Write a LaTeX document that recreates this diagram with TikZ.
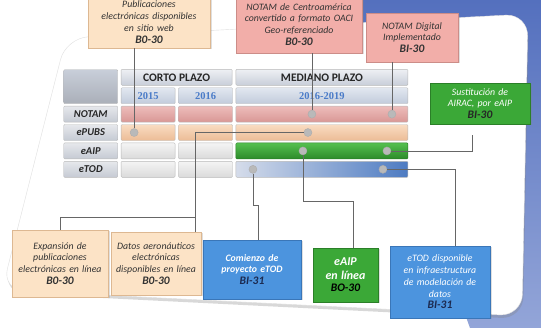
\documentclass[tikz,border=0pt]{standalone}
\usepackage{fontspec}
\setmainfont{Carlito}
\newfontfamily\yearfont{Liberation Serif}
\usetikzlibrary{matrix,positioning,shadows}
\definecolor{skyblue}{HTML}{5470BE}
\definecolor{skylight}{HTML}{93A5D8}
\definecolor{hdrtop}{HTML}{EEF0F4}
\definecolor{hdrbot}{HTML}{C8CED9}
\definecolor{yeartop}{HTML}{E2E7F0}
\definecolor{yearbot}{HTML}{C2CBDB}
\definecolor{yearblue}{HTML}{4A7BC8}
\definecolor{labtop}{HTML}{E6E8EC}
\definecolor{labbot}{HTML}{C5CAD3}
\definecolor{notamtop}{HTML}{EDBDBB}
\definecolor{notambot}{HTML}{D99795}
\definecolor{pubstop}{HTML}{F9DCC2}
\definecolor{pubsbot}{HTML}{ECBC96}
\definecolor{greytop}{HTML}{F4F4F4}
\definecolor{greybot}{HTML}{DADADA}
\definecolor{greentop}{HTML}{55C04F}
\definecolor{greenbot}{HTML}{2C8A2A}
\definecolor{etodleft}{HTML}{D5DCEA}
\definecolor{etodright}{HTML}{4D7BC2}
\definecolor{peach}{HTML}{FCE3C6}
\definecolor{peachline}{HTML}{DDB892}
\definecolor{pinkfill}{HTML}{F2AEA9}
\definecolor{pinkline}{HTML}{CC8D88}
\definecolor{greenfill}{HTML}{3BA837}
\definecolor{greenline}{HTML}{2B7F28}
\definecolor{bluefill}{HTML}{4C94DE}
\definecolor{blueline}{HTML}{3A76B8}
\definecolor{navyink}{HTML}{1C2A50}
\newcommand\idcode[1]{{\fontsize{11.5}{13}\selectfont\bfseries #1}}
\tikzset{
  cell/.style={
      rectangle,
      inner sep=0pt,
      minimum width=54pt,
      minimum height=16pt,
      draw=gray!55,
      rounded corners=1pt
  },
  wide/.style={minimum width=172pt},
  spacer/.style={rectangle, inner sep=0pt, minimum width=54pt, minimum height=16pt},
  hdr/.style={cell, top color=hdrtop, bottom color=hdrbot, text=black!85,
      font=\fontsize{11.5}{13}\selectfont\bfseries},
  cornerblk/.style={cell, top color=hdrbot, bottom color=hdrbot!85!black},
  yearcell/.style={cell, top color=yeartop, bottom color=yearbot, text=yearblue,
      font=\yearfont\fontsize{10.5}{12}\selectfont\bfseries},
  rowlab/.style={cell, top color=labtop, bottom color=labbot, text=black!85,
      font=\fontsize{10.5}{12}\selectfont\bfseries\itshape},
  notamc/.style={cell, top color=notamtop, bottom color=notambot},
  pubsc/.style={cell, top color=pubstop, bottom color=pubsbot},
  greyc/.style={cell, top color=greytop, bottom color=greybot},
  greenc/.style={cell, top color=greentop, bottom color=greenbot, draw=greenline},
  etodc/.style={cell, left color=etodleft, right color=etodright},
  callout/.style={
      rectangle,
      inner sep=2pt,
      align=center,
      drop shadow={opacity=0.25, shadow xshift=1.5pt, shadow yshift=-1.5pt},
      font=\fontsize{9.8}{11.8}\selectfont\itshape
  },
  peachbox/.style={callout, fill=peach, draw=peachline, text=black!80},
  pinkbox/.style={callout, fill=pinkfill, draw=pinkline, text=black!80},
  greenbox/.style={callout, fill=greenfill, draw=greenline, text=white},
  bluebox/.style={callout, fill=bluefill, draw=blueline, text=white},
  blob/.style={circle, inner sep=0pt, minimum size=8pt, fill=gray!55, draw=gray!65},
  link/.style={draw=black!60, line width=0.8pt}
}

\begin{document}
\begin{tikzpicture}[x=1pt,y=-1pt]
    \useasboundingbox (0,0) rectangle (541,328);
    \fill[white] (0,0) rectangle (541,328);
    % background and card
    \shade[top color=skyblue, bottom color=skylight] (352,0) -- (541,0) -- (541,328) -- (470,328) -- cycle;
    \fill[white, draw=gray!25, rounded corners=22pt,
          drop shadow={opacity=0.3, shadow xshift=1pt, shadow yshift=-3pt}]
        (66,38) -- (528,14) -- (522,316) -- (2,290) -- cycle;

    % plan table
    \matrix (tab) [matrix anchor=north west, row sep=2pt, column sep=3pt] at (60,84)
    {
      \node[spacer] (c0) {}; & \node[yearcell] (y15) {2015}; & \node[yearcell] (y16) {2016}; & \node[yearcell,wide] (y19) {2016-2019}; \\
      \node[rowlab] (lnotam) {NOTAM}; & \node[notamc] (n15) {}; & \node[notamc] (n16) {}; & \node[notamc,wide] (n19) {}; \\
      \node[rowlab] (lpubs) {ePUBS}; & \node[pubsc] (p15) {}; & \node[pubsc] (p16) {}; & \node[pubsc,wide] (p19) {}; \\
      \node[rowlab] (laip) {eAIP}; & \node[greyc] (a15) {}; & \node[greyc] (a16) {}; & \node[greenc,wide] (a19) {}; \\
      \node[rowlab] (ltod) {eTOD}; & \node[greyc] (t15) {}; & \node[greyc] (t16) {}; & \node[etodc,wide] (t19) {}; \\
    };
    \node[cornerblk, minimum height=34pt, anchor=south west] (corner) at (c0.south west) {};
    \node[hdr, minimum width=111pt, anchor=south west] (corto) at ([yshift=2pt]y15.north west) {CORTO PLAZO};
    \node[hdr, wide, anchor=south west] (mediano) at ([yshift=2pt]y19.north west) {MEDIANO PLAZO};

    % milestones
    \node[peachbox, minimum width=122pt, minimum height=52pt, text width=118pt] (pubweb) at (149,22)
        {Publicaciones\\electrónicas disponibles\\en sitio web\\\idcode{B0-30}};
    \node[pinkbox, minimum width=126pt, minimum height=57pt, text width=122pt] (notamca) at (299,24.5)
        {NOTAM de Centroamérica\\convertido a formato OACI\\Geo-referenciado\\\idcode{B0-30}};
    \node[pinkbox, minimum width=92pt, minimum height=49pt, text width=88pt] (notamdig) at (412,37.5)
        {NOTAM Digital\\Implementado\\\idcode{BI-30}};
    \node[greenbox, minimum width=100pt, minimum height=41pt, text width=96pt] (airac) at (480,103.5)
        {Sustitución de\\AIRAC, por eAIP\\\textcolor{black!85}{\idcode{BI-30}}};
    \node[peachbox, minimum width=94pt, minimum height=67pt, text width=92pt] (expan) at (60,263.5)
        {Expansión de\\publicaciones\\electrónicas en línea\\\idcode{B0-30}};
    \node[peachbox, minimum width=88pt, minimum height=63pt, text width=86pt] (datos) at (156,263.5)
        {Datos aeronáuticos\\electrónicas\\disponibles en línea\\\idcode{B0-30}};
    \node[bluebox, minimum width=98pt, minimum height=59pt, text width=94pt] (comienzo) at (252,269.5)
        {\bfseries Comienzo de\\\bfseries proyecto eTOD\\\textcolor{navyink}{\idcode{BI-31}}};
    \node[greenbox, minimum width=65pt, minimum height=54pt, text width=61pt] (eaipbox) at (345.5,275)
        {\fontsize{12}{14}\selectfont\bfseries eAIP\\\fontsize{12}{14}\selectfont\bfseries en línea\\\textcolor{black}{\idcode{BO-30}}};
    \node[bluebox, minimum width=100pt, minimum height=72pt, text width=96pt] (etodbox) at (440,282)
        {eTOD disponible\\en infraestructura\\de modelación de\\datos\\\textcolor{navyink}{\idcode{BI-31}}};

    % markers in the table
    \node[blob] (d1) at ([xshift=-14pt]p15.center) {};
    \node[blob] (d2) at ([xshift=-10pt]n19.center) {};
    \node[blob] (d3) at ([xshift=70pt]n19.center) {};
    \node[blob] (d4) at ([xshift=-14pt]p19.center) {};
    \node[blob] (d5) at ([xshift=-19pt]a19.center) {};
    \node[blob] (d6) at ([xshift=65pt]a19.center) {};
    \node[blob] (d7) at ([xshift=-69pt]t19.center) {};
    \node[blob] (d8) at ([xshift=61pt]t19.center) {};

    % connectors
    \draw[link] (d1) -- (d1 |- pubweb.south);
    \draw[link] (d2) -- (d2 |- notamca.south);
    \draw[link] (d3) -- (d3 |- notamdig.south);
    \draw[link] (d4) -| ([xshift=39pt]datos.north);
    \draw[link] ([xshift=39pt,yshift=14pt]datos.north) -| (expan.north);
    \draw[link] (d5) |- ([xshift=8pt,yshift=46pt]eaipbox.north) -- ([xshift=8pt]eaipbox.north);
    \draw[link] (d6) -| ([xshift=-8pt,yshift=-11pt]airac.south);
    \draw[link] (d7) |- ([xshift=6pt,yshift=34pt]comienzo.north) -- ([xshift=6pt]comienzo.north);
    \draw[link] (d8) -| ([xshift=15pt]etodbox.north);
\end{tikzpicture}
\end{document}
